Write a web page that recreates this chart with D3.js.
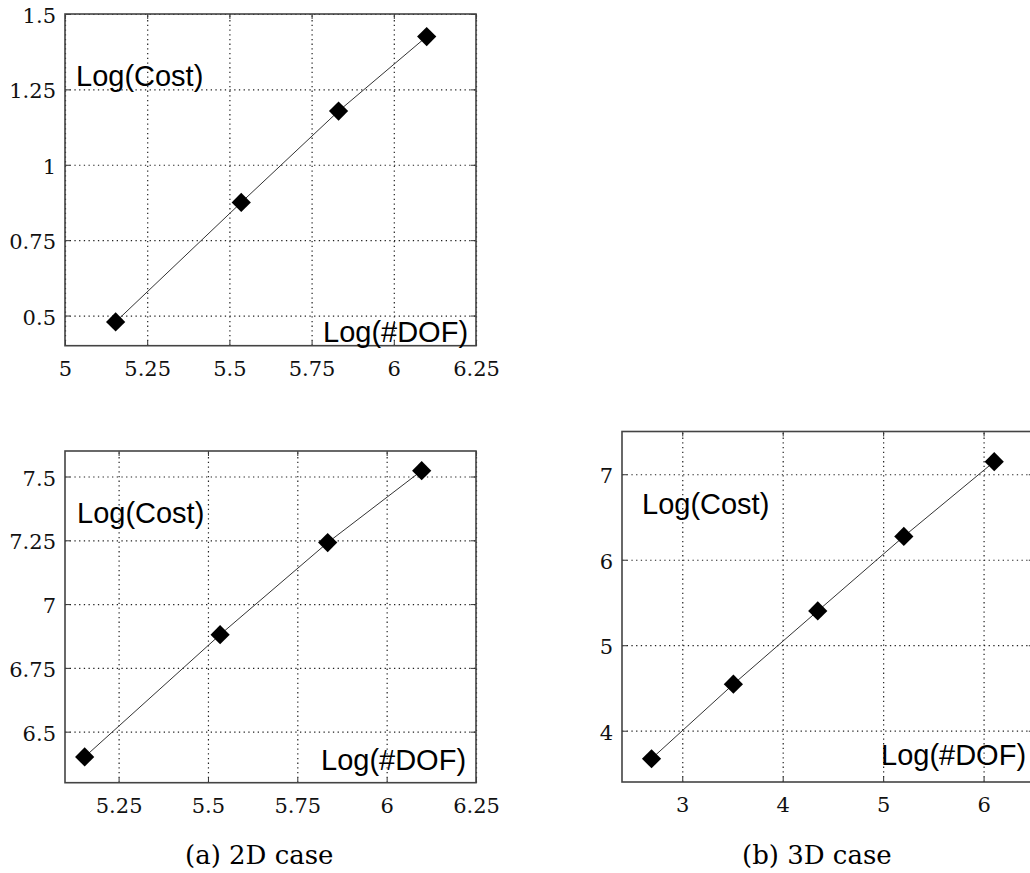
<!DOCTYPE html>
<html>
<head>
<meta charset="utf-8">
<script src="https://cdn.jsdelivr.net/npm/d3@7"></script>
<style>
  body { margin: 0; background: #fff; }
  svg { display: block; }
</style>
</head>
<body>
<script>
// values (log10 of #DOF vs log10 of cost)
var dofA = [5.154, 5.536, 5.832, 6.100];
var costA = [0.479, 0.875, 1.178, 1.425];

var dofB = [5.155, 5.534, 5.835, 6.098];
var costB = [6.401, 6.880, 7.241, 7.523];

var dofC = [2.694, 3.509, 4.349, 5.206, 6.106];
var costC = [3.672, 4.544, 5.401, 6.273, 7.147];

var xTicksA = [5, 5.25, 5.5, 5.75, 6, 6.25];
var yTicksA = [0.5, 0.75, 1, 1.25, 1.5];
var xTicksB = [5.25, 5.5, 5.75, 6, 6.25];
var yTicksB = [6.5, 6.75, 7, 7.25, 7.5];
var xTicksC = [3, 4, 5, 6];
var yTicksC = [4, 5, 6, 7];

var captions = ["(a) 2D case", "(b) 3D case"];

var width = 1030, height = 873;

var svg = d3.select("body").append("svg")
    .attr("width", width)
    .attr("height", height);

var panels = [
  {x: dofA, y: costA, xt: xTicksA, yt: yTicksA, xd: [5, 6.25], yd: [0.4, 1.5],
   left: 65, top: 14, right: 476, bottom: 345.7,
   cost: [11, 72], dof: [258, -4]},
  {x: dofB, y: costB, xt: xTicksB, yt: yTicksB, xd: [5.1, 6.25], yd: [6.3, 7.6],
   left: 65, top: 451, right: 476, bottom: 782.7,
   cost: [12, 72], dof: [256, -13]},
  {x: dofC, y: costC, xt: xTicksC, yt: yTicksC, xd: [2.4, 6.5], yd: [3.4, 7.5],
   left: 622, top: 431.5, right: 1033.8, bottom: 782,
   cost: [20, 82.5], dof: [259, -17]}
];

var diamond = d3.symbol().type(d3.symbolSquare).size(185);

panels.forEach(function(p) {
  var w = p.right - p.left, h = p.bottom - p.top;
  var g = svg.append("g").attr("transform", "translate(" + p.left + "," + p.top + ")");

  var x = d3.scaleLinear().domain(p.xd).range([0, w]);
  var y = d3.scaleLinear().domain(p.yd).range([h, 0]);

  // dotted grid
  var gx = g.append("g").attr("transform", "translate(0," + h + ")")
    .call(d3.axisBottom(x).tickValues(p.xt).tickSize(-h).tickFormat(""));
  var gy = g.append("g")
    .call(d3.axisLeft(y).tickValues(p.yt).tickSize(-w).tickFormat(""));
  [gx, gy].forEach(function(a) {
    a.select(".domain").remove();
    a.selectAll("line").attr("stroke", "#222").attr("stroke-width", 1.2)
      .attr("stroke-dasharray", "1.3,3.4");
  });

  // small inward ticks on every side
  var tk = [
    g.append("g").attr("transform", "translate(0," + h + ")").call(d3.axisBottom(x).tickValues(p.xt).tickSize(-5).tickFormat("")),
    g.append("g").call(d3.axisTop(x).tickValues(p.xt).tickSize(-5).tickFormat("")),
    g.append("g").call(d3.axisLeft(y).tickValues(p.yt).tickSize(-5).tickFormat("")),
    g.append("g").attr("transform", "translate(" + w + ",0)").call(d3.axisRight(y).tickValues(p.yt).tickSize(-5).tickFormat(""))
  ];
  tk.forEach(function(a) {
    a.select(".domain").remove();
    a.selectAll("line").attr("stroke", "#333");
  });

  // tick labels
  var lx = g.append("g").attr("transform", "translate(0," + h + ")")
    .call(d3.axisBottom(x).tickValues(p.xt).tickSize(0).tickPadding(0).tickFormat(function(d) { return String(d); }));
  lx.selectAll("text").attr("dy", null).attr("y", 30);
  var ly = g.append("g")
    .call(d3.axisLeft(y).tickValues(p.yt).tickSize(0).tickPadding(9).tickFormat(function(d) { return String(d); }));
  ly.selectAll("text").attr("dy", null).attr("y", 8.5);
  [lx, ly].forEach(function(a) {
    a.select(".domain").remove();
    a.selectAll("text").attr("font-family", "DejaVu Serif").attr("font-size", 21).attr("fill", "#111");
  });

  // box
  g.append("rect").attr("width", w).attr("height", h)
    .attr("fill", "none").attr("stroke", "#444").attr("stroke-width", 1.6);

  var pts = p.x.map(function(d, i) { return [d, p.y[i]]; });

  g.append("path").datum(pts)
    .attr("d", d3.line().x(function(d) { return x(d[0]); }).y(function(d) { return y(d[1]); }))
    .attr("fill", "none").attr("stroke", "#333").attr("stroke-width", 1);

  g.selectAll(".pt").data(pts).enter().append("path")
    .attr("class", "pt")
    .attr("d", diamond)
    .attr("transform", function(d) { return "translate(" + x(d[0]) + "," + y(d[1]) + ") rotate(45)"; })
    .attr("fill", "#000");

  g.append("text").attr("x", p.cost[0]).attr("y", p.cost[1])
    .attr("font-family", "Liberation Sans").attr("font-size", 29).attr("fill", "#000")
    .text("Log(Cost)");
  g.append("text").attr("x", p.dof[0]).attr("y", h + p.dof[1])
    .attr("font-family", "Liberation Sans").attr("font-size", 29).attr("fill", "#000")
    .text("Log(#DOF)");
});

svg.selectAll(".caption").data(captions).enter().append("text")
  .attr("class", "caption")
  .attr("x", function(d, i) { return [185, 742][i]; })
  .attr("y", 864)
  .attr("font-family", "DejaVu Serif").attr("font-size", 26).attr("fill", "#000")
  .text(function(d) { return d; });
</script>
</body>
</html>
